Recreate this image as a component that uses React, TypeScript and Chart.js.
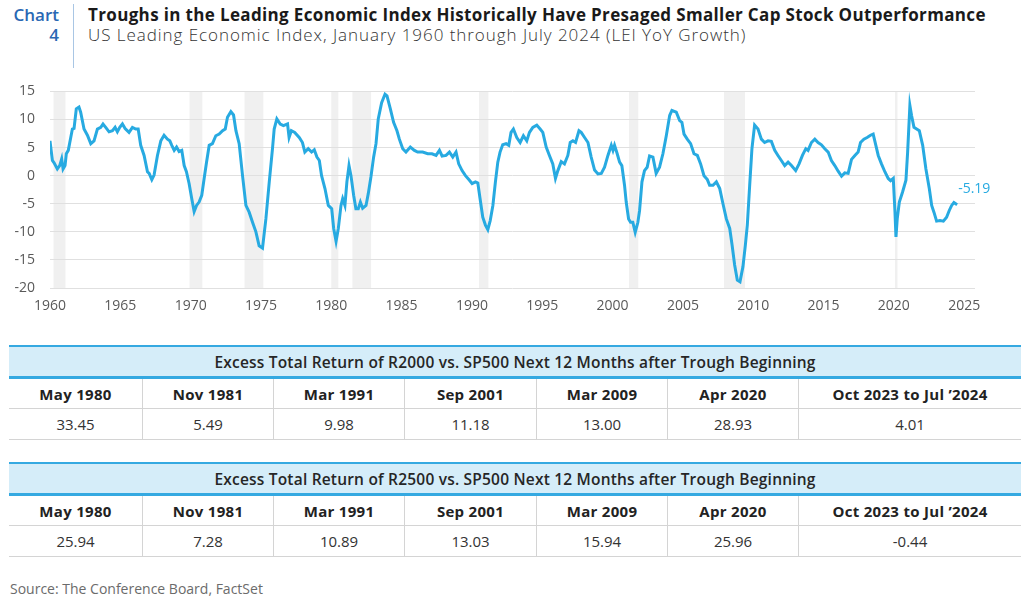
import React, { useEffect, useRef } from "react";
import { Chart, registerables } from "chart.js";

Chart.register(...registerables);

// ---- Chart data (LEI YoY growth, %) ----
const leiYears = [
  1960.0, 1960.17, 1960.29, 1960.52, 1960.69, 1960.83, 1960.93, 1961.07, 1961.16, 1961.3,
  1961.59, 1961.71, 1961.87, 1962.06, 1962.18, 1962.42, 1962.66, 1962.9, 1963.13, 1963.37,
  1963.61, 1963.77, 1963.96, 1964.2, 1964.44, 1964.63, 1964.79, 1964.96, 1965.15, 1965.34,
  1965.62, 1965.86, 1966.1, 1966.27, 1966.45, 1966.69, 1966.93, 1967.05, 1967.24, 1967.4,
  1967.64, 1967.88, 1968.11, 1968.35, 1968.52, 1968.66, 1968.83, 1969.0, 1969.18, 1969.37,
  1969.54, 1969.7, 1969.89, 1970.08, 1970.25, 1970.42, 1970.6, 1970.79, 1970.96, 1971.13,
  1971.32, 1971.55, 1971.79, 1972.03, 1972.27, 1972.46, 1972.62, 1972.86, 1973.05, 1973.22,
  1973.45, 1973.69, 1973.93, 1974.16, 1974.4, 1974.64, 1974.87, 1975.11, 1975.35, 1975.59,
  1975.82, 1975.94, 1976.13, 1976.37, 1976.6, 1976.89, 1977.0, 1977.16, 1977.4, 1977.72,
  1977.95, 1978.12, 1978.36, 1978.6, 1978.79, 1978.98, 1979.15, 1979.31, 1979.55, 1979.79,
  1980.03, 1980.17, 1980.34, 1980.5, 1980.69, 1980.81, 1980.97, 1981.11, 1981.26, 1981.4,
  1981.59, 1981.75, 1981.92, 1982.07, 1982.23, 1982.47, 1982.63, 1982.82, 1983.01, 1983.18,
  1983.34, 1983.58, 1983.82, 1983.96, 1984.2, 1984.43, 1984.67, 1984.84, 1985.08, 1985.31,
  1985.62, 1985.91, 1986.14, 1986.5, 1986.86, 1987.16, 1987.45, 1987.69, 1987.88, 1988.16,
  1988.4, 1988.64, 1988.87, 1989.06, 1989.3, 1989.54, 1989.78, 1990.01, 1990.25, 1990.42,
  1990.58, 1990.77, 1990.96, 1991.13, 1991.3, 1991.49, 1991.67, 1991.84, 1992.0, 1992.19,
  1992.43, 1992.62, 1992.78, 1992.95, 1993.19, 1993.43, 1993.66, 1993.9, 1994.09, 1994.33,
  1994.61, 1994.85, 1995.04, 1995.28, 1995.51, 1995.75, 1995.94, 1996.11, 1996.35, 1996.58,
  1996.82, 1996.99, 1997.18, 1997.37, 1997.61, 1997.77, 1998.01, 1998.25, 1998.48, 1998.72,
  1998.96, 1999.2, 1999.43, 1999.67, 1999.91, 2000.03, 2000.14, 2000.33, 2000.5, 2000.66,
  2000.85, 2000.97, 2001.14, 2001.28, 2001.44, 2001.61, 2001.8, 2001.92, 2002.09, 2002.27,
  2002.46, 2002.63, 2002.87, 2003.1, 2003.34, 2003.58, 2003.82, 2004.06, 2004.22, 2004.53,
  2004.77, 2004.93, 2005.08, 2005.31, 2005.55, 2005.79, 2006.03, 2006.26, 2006.5, 2006.74,
  2006.9, 2007.14, 2007.38, 2007.62, 2007.85, 2008.09, 2008.33, 2008.5, 2008.68, 2008.87,
  2009.06, 2009.27, 2009.44, 2009.58, 2009.75, 2009.91, 2010.1, 2010.34, 2010.58, 2010.81,
  2011.05, 2011.29, 2011.53, 2011.76, 2012.0, 2012.24, 2012.48, 2012.72, 2013.02, 2013.26,
  2013.5, 2013.74, 2013.9, 2014.14, 2014.38, 2014.61, 2014.85, 2015.09, 2015.33, 2015.56,
  2015.8, 2016.04, 2016.28, 2016.51, 2016.75, 2016.99, 2017.23, 2017.46, 2017.63, 2017.87,
  2018.1, 2018.34, 2018.53, 2018.72, 2018.89, 2019.12, 2019.36, 2019.6, 2019.77, 2019.96,
  2020.08, 2020.15, 2020.24, 2020.39, 2020.62, 2020.86, 2020.98, 2021.14, 2021.26, 2021.43,
  2021.62, 2021.81, 2022.05, 2022.28, 2022.52, 2022.69, 2022.85, 2023.04, 2023.28, 2023.52,
  2023.75, 2023.94, 2024.11, 2024.27, 2024.5,
];

const leiValues = [
  6.2, 2.7, 2.3, 1.2, 1.8, 3.0, 1.2, 1.8, 3.9, 4.5,
  8.3, 8.4, 11.9, 12.2, 11.3, 8.3, 7.2, 5.7, 6.2, 8.3,
  8.6, 9.2, 8.6, 7.8, 8.0, 8.6, 7.8, 8.6, 9.2, 8.4,
  7.7, 8.6, 8.3, 8.3, 5.4, 3.6, 0.7, 0.4, -0.7, 0.1,
  3.6, 6.2, 7.2, 6.5, 6.2, 5.4, 4.5, 5.1, 4.3, 4.5,
  1.8, 0.7, -1.4, -4.1, -6.4, -5.3, -4.7, -3.5, -0.5, 2.4,
  5.4, 5.7, 7.1, 7.4, 8.0, 8.3, 10.4, 11.4, 10.8, 8.0,
  5.7, 0.0, -5.3, -6.5, -8.3, -10.0, -12.5, -12.9, -7.7, -1.1,
  4.8, 8.3, 10.1, 9.2, 8.9, 9.2, 6.8, 8.0, 7.7, 6.8,
  5.9, 4.2, 4.8, 4.2, 4.6, 3.3, 2.7, 0.0, -2.3, -5.3,
  -5.9, -9.4, -11.7, -9.4, -5.3, -4.1, -5.3, -1.1, 1.8, 0.0,
  -3.5, -5.9, -5.9, -4.7, -5.8, -5.3, -3.2, -0.2, 3.3, 5.7,
  10.1, 13.0, 14.5, 14.2, 11.9, 9.5, 8.0, 6.5, 4.8, 4.2,
  5.1, 4.5, 4.2, 4.2, 3.9, 3.9, 3.6, 4.5, 3.5, 3.6,
  4.2, 3.3, 4.2, 2.1, 0.9, 0.0, -0.7, -1.4, -1.1, -1.3,
  -4.1, -7.4, -8.8, -9.6, -8.0, -5.3, -1.1, 2.4, 4.2, 5.5,
  5.7, 5.4, 7.7, 8.3, 6.8, 5.9, 7.1, 6.2, 7.7, 8.6,
  9.0, 8.3, 7.7, 5.1, 3.6, 2.1, -0.5, 0.9, 2.5, 2.1,
  3.6, 5.9, 6.2, 5.9, 8.0, 7.7, 6.8, 5.9, 3.3, 1.0,
  0.3, 0.4, 1.5, 3.6, 5.4, 4.5, 5.4, 3.9, 2.4, 1.8,
  -1.7, -4.7, -7.7, -8.3, -8.3, -10.1, -8.3, -6.2, -1.1, 0.9,
  1.5, 3.5, 3.3, 0.4, 1.5, 3.9, 7.1, 10.7, 11.6, 11.3,
  9.8, 9.5, 7.4, 6.5, 5.7, 3.9, 3.6, 2.1, 0.0, -0.7,
  -1.7, -1.7, -1.1, -2.3, -5.0, -7.7, -9.4, -12.4, -15.9, -18.6,
  -18.9, -16.2, -12.4, -8.8, -1.7, 4.8, 9.0, 8.3, 6.5, 5.9,
  6.2, 6.1, 4.5, 3.6, 2.7, 1.8, 2.4, 1.8, 0.9, 2.1,
  3.6, 4.8, 4.5, 5.9, 6.5, 5.9, 5.5, 4.8, 4.2, 2.7,
  1.8, 0.8, -0.1, 0.5, 0.4, 2.9, 3.6, 4.2, 5.9, 6.5,
  6.8, 7.2, 7.4, 5.4, 3.6, 2.1, 0.7, -0.5, -0.9, -0.5,
  -6.5, -10.9, -7.7, -4.7, -2.9, -0.8, 4.2, 12.5, 10.7, 8.6,
  8.3, 8.0, 5.4, 1.2, -2.3, -5.3, -6.5, -8.1, -8.0, -8.1,
  -7.4, -6.2, -5.3, -4.8, -5.19,
];

// NBER recessions (decimal years)
const recessionStarts = [1960.25, 1969.92, 1973.83, 1980.0, 1981.5, 1990.5, 2001.17, 2007.92, 2020.08];
const recessionEnds = [1961.1, 1970.83, 1975.17, 1980.5, 1982.83, 1991.17, 2001.83, 2009.42, 2020.25];

const xTickYears = [1960, 1965, 1970, 1975, 1980, 1985, 1990, 1995, 2000, 2005, 2010, 2015, 2020, 2025];
const yTickValues = [15, 10, 5, 0, -5, -10, -15, -20];
const lastValueLabel = "-5.19";

// ---- Table data ----
const troughDates = ["May 1980", "Nov 1981", "Mar 1991", "Sep 2001", "Mar 2009", "Apr 2020", "Oct 2023 to Jul \u20192024"];
const r2000Title = "Excess Total Return of R2000 vs. SP500 Next 12 Months after Trough Beginning";
const r2000Values = ["33.45", "5.49", "9.98", "11.18", "13.00", "28.93", "4.01"];
const r2500Title = "Excess Total Return of R2500 vs. SP500 Next 12 Months after Trough Beginning";
const r2500Values = ["25.94", "7.28", "10.89", "13.03", "15.94", "25.96", "-0.44"];
const colWidths = [133, 131, 131, 132, 131, 131, 223];

const FONT = "'Open Sans', 'Noto Sans', sans-serif";
const LINE_BLUE = "#27aae1";

const recessionPlugin = {
  id: "recessionBands",
  beforeDraw(chart: any) {
    const { ctx, chartArea, scales } = chart;
    ctx.save();
    ctx.fillStyle = "#f0f0f0";
    recessionStarts.forEach((s, i) => {
      const x1 = scales.x.getPixelForValue(s);
      const x2 = scales.x.getPixelForValue(recessionEnds[i]);
      ctx.fillRect(x1, chartArea.top, Math.max(x2 - x1, 2.5), chartArea.bottom - chartArea.top);
    });
    ctx.restore();
  },
};

const endLabelPlugin = {
  id: "endLabel",
  afterDatasetsDraw(chart: any) {
    const meta = chart.getDatasetMeta(0);
    const pt = meta.data[meta.data.length - 1];
    if (!pt) return;
    const { ctx } = chart;
    ctx.save();
    ctx.font = `14px ${FONT}`;
    ctx.fillStyle = LINE_BLUE;
    ctx.textAlign = "left";
    ctx.textBaseline = "middle";
    ctx.fillText(lastValueLabel, pt.x + 1, pt.y - 16);
    ctx.restore();
  },
};

function LeiChart() {
  const ref = useRef<HTMLCanvasElement | null>(null);
  useEffect(() => {
    if (!ref.current) return;
    const tickFont = { family: FONT, size: 14 };
    const chart = new Chart(ref.current, {
      type: "line",
      data: {
        datasets: [
          {
            data: leiYears.map((x, i) => ({ x, y: leiValues[i] })),
            borderColor: LINE_BLUE,
            borderWidth: 3,
            pointRadius: 0,
            tension: 0,
            fill: false,
          },
        ],
      },
      options: {
        animation: false,
        responsive: false,
        maintainAspectRatio: false,
        layout: { padding: { top: 0, right: 25, bottom: 0, left: 0 } },
        plugins: { legend: { display: false }, tooltip: { enabled: false } },
        scales: {
          x: {
            type: "linear",
            min: 1960,
            max: 2025.77,
            grid: { display: false },
            border: { display: false },
            afterBuildTicks: (axis: any) => {
              axis.ticks = xTickYears.map((v) => ({ value: v }));
            },
            afterFit: (axis: any) => {
              axis.height = 50;
            },
            ticks: {
              font: tickFont,
              color: "#595959",
              padding: 2,
              maxRotation: 0,
              autoSkip: false,
              callback: (v: any) => String(v),
            },
          },
          y: {
            min: -20,
            max: 15,
            afterBuildTicks: (axis: any) => {
              axis.ticks = yTickValues.map((v) => ({ value: v }));
            },
            afterFit: (axis: any) => {
              axis.width = 50;
            },
            grid: { color: "#e0e0e0", lineWidth: 1, drawTicks: false },
            border: { display: false },
            ticks: {
              font: tickFont,
              color: "#595959",
              padding: 15,
              callback: (v: any) => String(v),
            },
          },
        },
      },
      plugins: [recessionPlugin, endLabelPlugin],
    } as any);
    return () => chart.destroy();
  }, []);
  return (
    <canvas
      ref={ref}
      width={1000}
      height={270}
      style={{ position: "absolute", left: 0, top: 68, width: 1000, height: 270 }}
    />
  );
}

function ResultTable({ top, title, values }: { top: number; title: string; values: string[] }) {
  const gray = "1px solid #d4d4d4";
  return (
    <div style={{ position: "absolute", left: 9, top, width: 1012, fontFamily: FONT }}>
      <div style={{ height: 2, background: "#35a9e1" }} />
      <div
        style={{
          height: 29,
          background: "#d5edf9",
          display: "flex",
          alignItems: "center",
          justifyContent: "center",
          fontSize: 15.5,
          fontWeight: 600,
          letterSpacing: 0.2,
          color: "#262626",
        }}
      >
        {title}
      </div>
      <div style={{ height: 3, background: "#35a9e1" }} />
      <div style={{ display: "flex", height: 29, borderBottom: gray }}>
        {troughDates.map((d, i) => (
          <div
            key={d}
            style={{
              width: colWidths[i],
              boxSizing: "border-box",
              borderLeft: i === 0 ? "none" : gray,
              display: "flex",
              alignItems: "center",
              justifyContent: "center",
              fontSize: 15,
              fontWeight: 700,
              letterSpacing: 0.3,
              color: "#222",
            }}
          >
            {d}
          </div>
        ))}
      </div>
      <div style={{ display: "flex", height: 30, borderBottom: gray }}>
        {values.map((v, i) => (
          <div
            key={i}
            style={{
              width: colWidths[i],
              boxSizing: "border-box",
              borderLeft: i === 0 ? "none" : gray,
              display: "flex",
              alignItems: "center",
              justifyContent: "center",
              fontSize: 15,
              fontWeight: 400,
              color: "#333",
            }}
          >
            {v}
          </div>
        ))}
      </div>
    </div>
  );
}

export default function App() {
  return (
    <div
      style={{
        position: "absolute",
        left: 0,
        top: 0,
        width: 1024,
        height: 605,
        background: "#fff",
        overflow: "hidden",
        fontFamily: FONT,
      }}
    >
      <div
        style={{
          position: "absolute",
          left: 0,
          top: 5,
          width: 59,
          textAlign: "right",
          color: "#2a68b4",
          fontSize: 17,
          fontWeight: 600,
          lineHeight: "20px",
        }}
      >
        <div>Chart</div>
        <div>4</div>
      </div>
      <div style={{ position: "absolute", left: 73, top: 4, width: 1, height: 64, background: "#a9c6e4" }} />
      <div
        style={{
          position: "absolute",
          left: 88,
          top: 5,
          fontSize: 17,
          fontWeight: 700,
          lineHeight: "20px",
          color: "#1a1a1a",
          whiteSpace: "nowrap",
          letterSpacing: 0.35,
        }}
      >
        Troughs in the Leading Economic Index Historically Have Presaged Smaller Cap Stock Outperformance
      </div>
      <div
        style={{
          position: "absolute",
          left: 88,
          top: 25,
          fontSize: 17,
          fontWeight: 300,
          lineHeight: "20px",
          color: "#333",
          whiteSpace: "nowrap",
          letterSpacing: 0.95,
        }}
      >
        US Leading Economic Index, January 1960 through July 2024 (LEI YoY Growth)
      </div>
      <LeiChart />
      <ResultTable top={345} title={r2000Title} values={r2000Values} />
      <ResultTable top={462} title={r2500Title} values={r2500Values} />
      <div style={{ position: "absolute", left: 10, top: 579, fontSize: 14, color: "#6b6b6b" }}>
        Source: The Conference Board, FactSet
      </div>
    </div>
  );
}
